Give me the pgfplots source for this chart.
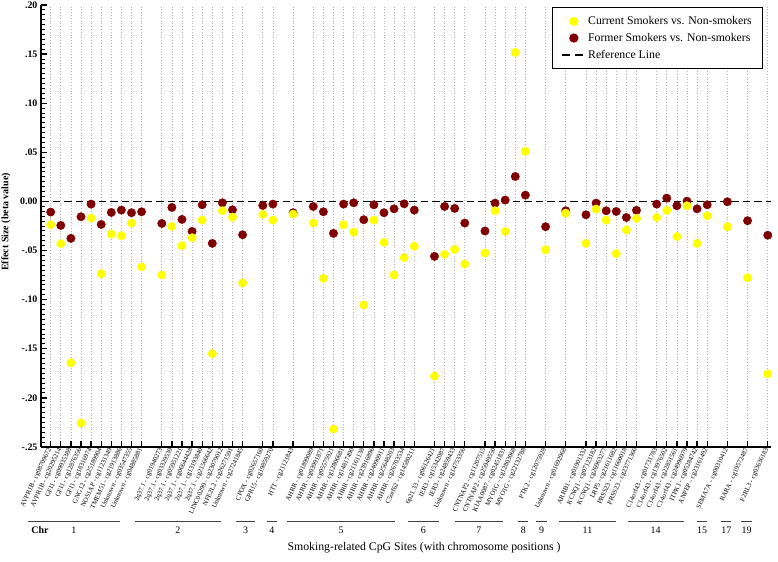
\documentclass[border=0pt]{standalone}
\usepackage{fontspec}
\setmainfont{Liberation Serif}
\usepackage{pgfplots}
\pgfplotsset{compat=1.18}
\usepackage{pgfplotstable}
\usetikzlibrary{calc}

\definecolor{curY}{RGB}{255,255,0}
\definecolor{formR}{RGB}{128,0,0}

% slot on the x axis, current vs non, former vs non
\pgfplotstableread{
x   cur      former
1   -0.0237  -0.0108
2   -0.0430  -0.0244
3   -0.1643  -0.0376
4   -0.2256  -0.0156
5   -0.0169  -0.0027
6   -0.0735  -0.0234
7   -0.0332  -0.0112
8   -0.0349  -0.0088
9   -0.0220  -0.0115
10  -0.0667  -0.0105
12  -0.0749  -0.0224
13  -0.0254  -0.0061
14  -0.0450  -0.0183
15  -0.0369  -0.0305
16  -0.0190  -0.0034
17  -0.1550  -0.0427
18  -0.0095  -0.0014
19  -0.0159  -0.0085
20  -0.0830  -0.0339
22  -0.0132  -0.0041
23  -0.0190  -0.0027
25  -0.0129  -0.0115
27  -0.0220  -0.0051
28  -0.0783  -0.0105
29  -0.2317  -0.0325
30  -0.0237  -0.0027
31  -0.0312  -0.0014
32  -0.1054  -0.0186
33  -0.0190  -0.0034
34  -0.0417  -0.0115
35  -0.0749  -0.0075
36  -0.0572  -0.0024
37  -0.0457  -0.0088
39  -0.1778  -0.0559
40  -0.0539  -0.0051
41  -0.0488  -0.0071
42  -0.0637  -0.0220
44  -0.0525  -0.0301
45  -0.0095  -0.0017
46  -0.0305   0.0014
47   0.1517   0.0254
48   0.0510   0.0064
50  -0.0491  -0.0257
52  -0.0119  -0.0095
54  -0.0427  -0.0136
55  -0.0078  -0.0017
56  -0.0190  -0.0095
57  -0.0532  -0.0102
58  -0.0291  -0.0163
59  -0.0173  -0.0091
61  -0.0163  -0.0027
62  -0.0091   0.0034
63  -0.0356  -0.0044
64  -0.0044   0.0003
65  -0.0427  -0.0075
66  -0.0146  -0.0034
68  -0.0257  -0.0003
70  -0.0776  -0.0196
72  -0.1755  -0.0344
}\cpgdata

\begin{document}
\begin{tikzpicture}
\begin{axis}[
    scale only axis,
    width=729.8bp, height=442bp,
    xmin=0.04, xmax=72.3,
    ymin=-0.25, ymax=0.2,
    axis x line*=bottom, axis y line*=left,
    axis line style={line width=1.5bp},
    clip=false,
    tick align=inside,
    major tick length=6bp, minor tick length=3.5bp,
    every major tick/.append style={line width=1.3bp, black},
    every minor tick/.append style={line width=1bp, black},
    xtick={1,2,3,4,5,6,7,8,9,10,12,13,14,15,16,17,18,19,20,22,23,25,27,28,29,30,31,32,33,34,35,36,37,39,40,41,42,44,45,46,47,48,50,52,54,55,56,57,58,59,61,62,63,64,65,66,68,70,72},
    xticklabels={AVPR1B - cg08709672, AVPR1B - cg20295214, GFI1 - cg09935388, GFI1 - cg12876356, GFI1 - cg18316974, GNG12 - cg25189904, NOS1AP - cg11231349, TMEM51 - cg21913886, Unknown - cg03547355, Unknown - cg04885881,
      2q37.1 - cg01940273, 2q37.1 - cg03329539, 2q37.1 - cg05951221, 2q37.1 - cg06644428, 2q37.1 - cg13193840, 2q37.1 - cg21566642, LINC00299 - cg23079012, NFE2L2 - cg26271591, Unknown - cg27241845,
      CPOX - cg02657160, GPR15 - cg19859270,
      HTT - cg21121843,
      AHRR - cg01899089, AHRR - cg03991871, AHRR - cg05575921, AHRR - cg12806681, AHRR - cg14817490, AHRR - cg21161138, AHRR - cg23916896, AHRR - cg24090911, AHRR - cg25648203, AHRR - cg26703534, C5orf62 - cg14580211,
      6p21.33 - cg06126421, IER3 - cg15342087, IER3 - cg24859433, Unknown - cg14753356,
      CNTNAP2 - cg11207515, CNTNAP2 - cg25949550, KIAA0087 - cg02451831, MYO1G - cg12803068, MYO1G - cg22132788,
      PTK2 - cg12075928,
      Unknown - cg01692968,
      ARRB1 - cg01901332, KCNQ1 - cg07123182, KCNQ1 - cg26963277, LRP5 - cg21611682, PRSS23 - cg11660018, PRSS23 - cg23771366,
      C14orf43 - cg01731783, C14orf43 - cg13976502, C14orf43 - cg22851561, C14orf43 - cg24996979, ITPK1 - cg05284742, ANPEP - cg23161492,
      SEMA7A - cg00310412,
      RARA - cg19572487,
      F2RL3 - cg03636183},
    xticklabel style={rotate=65, anchor=east, font=\fontsize{6.8}{8}\selectfont, inner sep=1.5bp},
    ytick={-0.25,-0.2,-0.15,-0.1,-0.05,0,0.05,0.1,0.15,0.2},
    yticklabels={-.25,-.20,-.15,-.10,-.05,0.00,.05,.10,.15,.20},
    yticklabel style={font=\fontsize{10}{12}\selectfont\bfseries},
    minor y tick num=9,
    xmajorgrids,
    grid style={gray!60, line width=0.7bp, dash pattern=on 0.8bp off 2bp},
    ylabel={Effect Size (beta value)},
    ylabel style={font=\fontsize{10}{12}\selectfont\bfseries, at={(axis description cs:-0.048,0.509)}, anchor=center},
    xlabel={Smoking-related CpG Sites (with chromosome positions )},
    xlabel style={font=\fontsize{11.8}{14}\selectfont, at={(axis description cs:0.525,-0.2285)}, anchor=center},
    legend cell align=left,
    legend style={at={(0.9895,0.995)}, anchor=north east, draw=black, line width=0.8bp,
      font=\fontsize{11.8}{14}\selectfont, inner xsep=9bp, inner ysep=7bp, row sep=3bp},
]

\addlegendimage{legend image code/.code={\fill[curY] (11.5bp,0bp) circle (4.2bp); \path (0bp,0bp) (23bp,0bp);}}
\addlegendentry{Current Smokers vs. Non-smokers}
\addlegendimage{legend image code/.code={\fill[formR] (11.5bp,0bp) circle (4.2bp); \path (0bp,0bp) (23bp,0bp);}}
\addlegendentry{Former Smokers vs. Non-smokers}
\addlegendimage{legend image code/.code={\draw[black, line width=1.6bp, dash pattern=on 8bp off 5bp] (0bp,0bp) -- (23bp,0bp);}}
\addlegendentry{Reference Line}

\addplot[black, line width=1.6bp, dash pattern=on 7.5bp off 4bp, forget plot]
    coordinates {(0.04,0) (72.3,0)};
\addplot[only marks, mark=*, mark size=4.2bp, draw=formR, fill=formR, forget plot]
    table[x=x, y=former] {\cpgdata};
\addplot[only marks, mark=*, mark size=4.2bp, draw=curY, fill=curY, forget plot]
    table[x=x, y=cur] {\cpgdata};

% chromosome groups under the site labels
\draw[line width=0.8bp, black!75] (axis cs:-1.25,-0.3256) -- (axis cs:7.86,-0.3256);
\draw[line width=0.8bp, black!75] (axis cs:9.35,-0.3256) -- (axis cs:17.86,-0.3256);
\draw[line width=0.8bp, black!75] (axis cs:19.35,-0.3256) -- (axis cs:21.23,-0.3256);
\draw[line width=0.8bp, black!75] (axis cs:22.42,-0.3256) -- (axis cs:23.4,-0.3256);
\draw[line width=0.8bp, black!75] (axis cs:24.4,-0.3256) -- (axis cs:35.09,-0.3256);
\draw[line width=0.8bp, black!75] (axis cs:36.38,-0.3256) -- (axis cs:39.45,-0.3256);
\draw[line width=0.8bp, black!75] (axis cs:41.03,-0.3256) -- (axis cs:45.78,-0.3256);
\draw[line width=0.8bp, black!75] (axis cs:47.27,-0.3256) -- (axis cs:48.26,-0.3256);
\draw[line width=0.8bp, black!75] (axis cs:49.05,-0.3256) -- (axis cs:50.14,-0.3256);
\draw[line width=0.8bp, black!75] (axis cs:51.33,-0.3256) -- (axis cs:56.97,-0.3256);
\draw[line width=0.8bp, black!75] (axis cs:58.16,-0.3256) -- (axis cs:63.7,-0.3256);
\draw[line width=0.8bp, black!75] (axis cs:64.99,-0.3256) -- (axis cs:65.98,-0.3256);
\draw[line width=0.8bp, black!75] (axis cs:67.37,-0.3256) -- (axis cs:68.36,-0.3256);
\draw[line width=0.8bp, black!75] (axis cs:69.35,-0.3256) -- (axis cs:70.44,-0.3256);

\node[font=\fontsize{10}{12}\selectfont] at (axis cs:3.3,-0.3345) {1};
\node[font=\fontsize{10}{12}\selectfont] at (axis cs:13.6,-0.3345) {2};
\node[font=\fontsize{10}{12}\selectfont] at (axis cs:20.3,-0.3345) {3};
\node[font=\fontsize{10}{12}\selectfont] at (axis cs:22.9,-0.3345) {4};
\node[font=\fontsize{10}{12}\selectfont] at (axis cs:29.75,-0.3345) {5};
\node[font=\fontsize{10}{12}\selectfont] at (axis cs:37.9,-0.3345) {6};
\node[font=\fontsize{10}{12}\selectfont] at (axis cs:43.4,-0.3345) {7};
\node[font=\fontsize{10}{12}\selectfont] at (axis cs:47.8,-0.3345) {8};
\node[font=\fontsize{10}{12}\selectfont] at (axis cs:49.6,-0.3345) {9};
\node[font=\fontsize{10}{12}\selectfont] at (axis cs:54.15,-0.3345) {11};
\node[font=\fontsize{10}{12}\selectfont] at (axis cs:60.9,-0.3345) {14};
\node[font=\fontsize{10}{12}\selectfont] at (axis cs:65.5,-0.3345) {15};
\node[font=\fontsize{10}{12}\selectfont] at (axis cs:67.9,-0.3345) {17};
\node[font=\fontsize{10}{12}\selectfont] at (axis cs:69.9,-0.3345) {19};
\node[font=\fontsize{10}{12}\selectfont\bfseries] at (axis cs:-0.06,-0.3345) {Chr};

\coordinate (O) at (rel axis cs:0,0);
\end{axis}
\pgfresetboundingbox
\path ($(O)+(-41bp,-115bp)$) rectangle ($(O)+(737bp,447bp)$);
\end{tikzpicture}
\end{document}
